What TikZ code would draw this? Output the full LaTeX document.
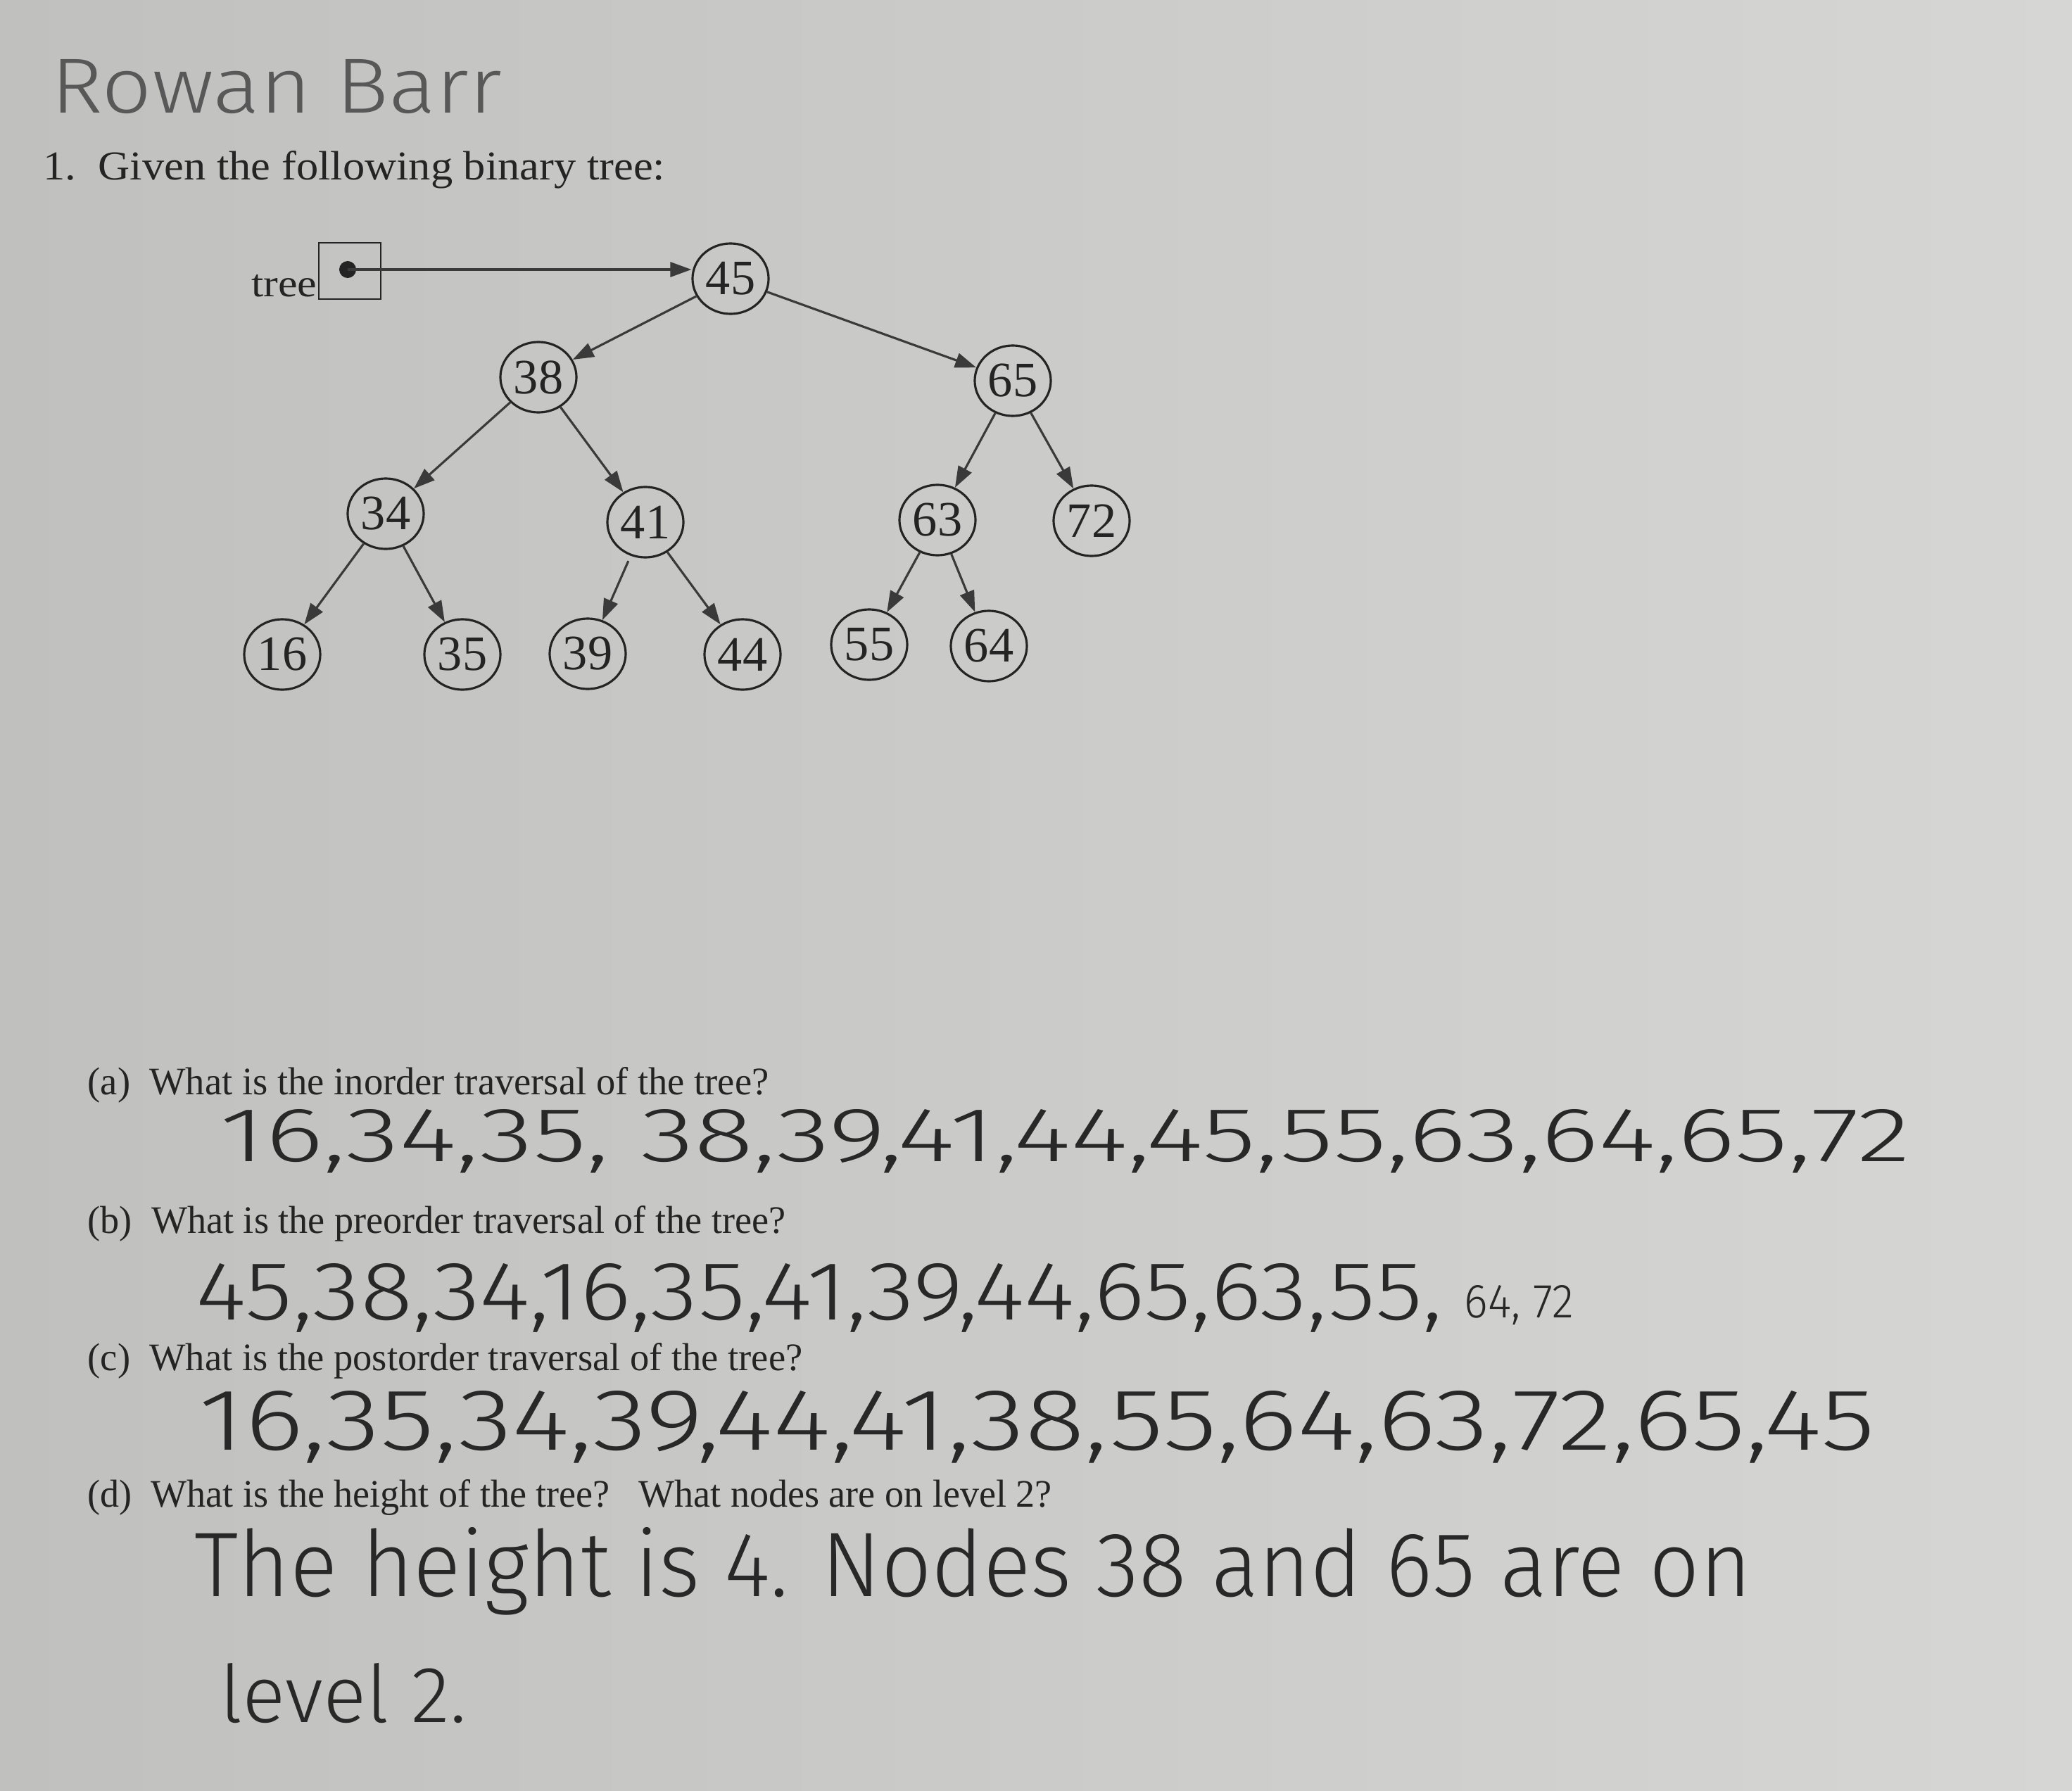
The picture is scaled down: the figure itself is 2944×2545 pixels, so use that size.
\documentclass[tikz,border=0pt]{standalone}
\usepackage{fontspec}
\usepackage{graphicx}
\setmainfont{Liberation Serif}
\newfontfamily\handfont{Fira Sans Light}
\usetikzlibrary{shapes.geometric,arrows.meta}
\definecolor{paperL}{RGB}{192,193,191}
\definecolor{paperR}{RGB}{214,215,213}
\definecolor{ink}{RGB}{36,36,36}
\definecolor{pencil}{RGB}{88,88,88}
\definecolor{pen}{RGB}{40,40,40}
\tikzset{
  tnode/.style={ellipse, draw=ink, line width=0.9pt, minimum width=1.08cm, minimum height=1.0cm,
    inner sep=0pt, font=\fontsize{20}{20}\selectfont, text=ink},
  treeedge/.style={-{Triangle[length=0.3cm,width=0.21cm]}, line width=0.9pt, draw=ink!90},
  ques/.style={anchor=base west, inner sep=0pt, text=ink},
  hand/.style={anchor=base west, inner sep=0pt, text=pen, font=\handfont},
}
\begin{document}
\begin{tikzpicture}[x=0.01cm,y=-0.01cm]
\useasboundingbox (0,0) rectangle (2944,2545);
\shade[left color=paperL, right color=paperR] (0,0) rectangle (2944,2545);

% header
\node[hand, text=pencil] (name) at (72,160) {\resizebox{6.4cm}{0.76cm}{Rowan Barr}};
\node[ques] (q1) at (61,255) {\resizebox{8.83cm}{0.41cm}{1.\ \ Given the following binary tree:}};

% pointer box
\node[draw=ink, line width=0.8pt, minimum width=0.88cm, minimum height=0.8cm, inner sep=0pt] (box) at (497,385) {};
\node[circle, fill=ink, minimum size=0.24cm, inner sep=0pt] (dot) at (494,383) {};
\node[anchor=base east, inner sep=0pt, text=ink] (treelbl) at (451,421) {\resizebox{0.93cm}{0.31cm}{tree}};

% tree nodes
\node[tnode] (n45) at (1038,396) {45};
\node[tnode] (n38) at (765,536) {38};
\node[tnode] (n65) at (1439,541) {65};
\node[tnode] (n34) at (548,730) {34};
\node[tnode] (n41) at (917,742) {41};
\node[tnode] (n63) at (1332,739) {63};
\node[tnode] (n72) at (1551,740) {72};
\node[tnode] (n16) at (401,930) {16};
\node[tnode] (n35) at (657,930) {35};
\node[tnode] (n39) at (835,929) {39};
\node[tnode] (n44) at (1055,930) {44};
\node[tnode] (n55) at (1235,916) {55};
\node[tnode] (n64) at (1405,918) {64};

% connectors
\draw[treeedge] (dot.center) -- (dot.center -| n45.west);
\draw[treeedge] (n45) -- (n38);
\draw[treeedge] (n45) -- (n65);
\draw[treeedge] (n38) -- (n34);
\draw[treeedge] (n38) -- (n41);
\draw[treeedge] (n65) -- (n63);
\draw[treeedge] (n65) -- (n72);
\draw[treeedge] (n34) -- (n16);
\draw[treeedge] (n34) -- (n35);
\draw[treeedge, shorten <=0.08cm] (n41) -- (n39);
\draw[treeedge] (n41) -- (n44);
\draw[treeedge] (n63) -- (n55);
\draw[treeedge] (n63) -- (n64);

% questions
\node[ques] (qa) at (124,1555) {\resizebox{9.67cm}{0.39cm}{(a)\ \ What is the inorder traversal of the tree?}};
\node[ques] (qb) at (124,1752) {\resizebox{9.91cm}{0.39cm}{(b)\ \ What is the preorder traversal of the tree?}};
\node[ques] (qc) at (124,1947) {\resizebox{10.15cm}{0.39cm}{(c)\ \ What is the postorder traversal of the tree?}};
\node[ques] (qd) at (124,2141) {\resizebox{13.69cm}{0.39cm}{(d)\ \ What is the height of the tree?\ \ \ What nodes are on level 2?}};

% handwritten answers
\node[hand] (ansa) at (312,1650) {\resizebox{24.0cm}{0.74cm}{16,34,35, 38,39,41,44,45,55,63,64,65,72}};
\node[hand] (ansb) at (278,1875) {\resizebox{17.7cm}{0.8cm}{45,38,34,16,35,41,39,44,65,63,55,}};
\node[hand] (ansb2) at (2080,1872) {\resizebox{1.55cm}{0.46cm}{64, 72}};
\node[hand] (ansc) at (282,2060) {\resizebox{23.8cm}{0.84cm}{16,35,34,39,44,41,38,55,64,63,72,65,45}};
\node[hand] (ansd1) at (276,2268) {\resizebox{22.1cm}{0.98cm}{The height is 4. Nodes 38 and 65 are on}};
\node[hand] (ansd2) at (312,2447) {\resizebox{3.5cm}{0.84cm}{level 2.}};
\end{tikzpicture}
\end{document}
